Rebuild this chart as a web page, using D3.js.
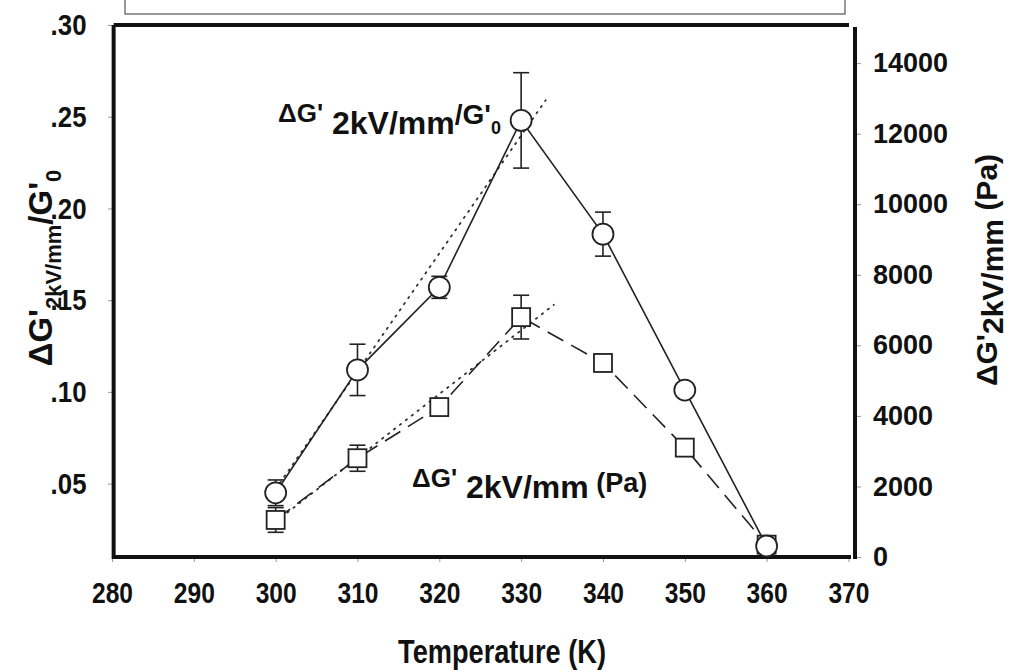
<!DOCTYPE html>
<html>
<head>
<meta charset="utf-8">
<script src="https://cdn.jsdelivr.net/npm/d3@7"></script>
<style>
  body { margin: 0; background: #fff; }
  svg text { font-family: "Liberation Sans", Arial, sans-serif; font-weight: bold; fill: #111; }
</style>
</head>
<body>
<div id="chart"></div>
<script>
// Données
const temperatures = [300, 310, 320, 330, 340, 350, 360];
const ratioValues = [0.045, 0.112, 0.157, 0.248, 0.186, 0.101, 0.016];   // ΔG'2kV/mm / G'0
const ratioErrors = [0.007, 0.014, 0.006, 0.026, 0.012, 0, 0];
const modulusValues = [1050, 2800, 4250, 6800, 5500, 3100, 350];       // ΔG'2kV/mm (Pa)
const modulusErrors = [350, 370, 0, 620, 0, 0, 0];

// droites d'ajustement (pointillés)
const ratioFitT = [300, 333];
const ratioFitV = [0.047, 0.259];
const modulusFitT = [300, 334];
const modulusFitV = [1000, 7150];

const xTicks = [280, 290, 300, 310, 320, 330, 340, 350, 360, 370];
const leftTicks = [0.05, 0.10, 0.15, 0.20, 0.25, 0.30];
const rightTicks = [0, 2000, 4000, 6000, 8000, 10000, 12000, 14000];

// Crée le svg
const svg = d3.select("#chart")
    .append("svg")
    .attr("width", 1012)
    .attr("height", 670);

const x = d3.scaleLinear().domain([280, 370.8]).range([112, 855]);
const yLeft = d3.scaleLinear().domain([0.01, 0.30]).range([557, 25]);
const yRight = d3.scaleLinear().domain([0, 15080]).range([557, 25]);

// boîte de légende coupée en haut
svg.append("rect")
    .attr("x", 125).attr("y", -5)
    .attr("width", 720).attr("height", 19)
    .attr("fill", "none")
    .attr("stroke", "#555")
    .attr("stroke-width", 1.2);

// Axes (police "étroite" simulée par un scaleX)
const axisStyle = (size, sx) => g => {
    g.select(".domain").remove();
    g.selectAll(".tick line").attr("stroke", "#999").attr("stroke-width", 1);
    g.selectAll(".tick text").style("font-size", size).attr("fill", "#111")
        .attr("transform", `scale(${sx},1)`);
};

svg.append("g")
    .attr("transform", "translate(0,557)")
    .call(d3.axisBottom(x).tickValues(xTicks).tickSize(5).tickPadding(20))
    .call(axisStyle("30px", 0.82));

svg.append("g")
    .attr("transform", "translate(114,0)")
    .call(d3.axisLeft(yLeft).tickValues(leftTicks).tickSize(6).tickPadding(26)
        .tickFormat(d => d3.format(".2f")(d).replace(/^0/, "")))
    .call(axisStyle("30px", 0.86));

svg.append("g")
    .attr("transform", "translate(855,0)")
    .call(d3.axisRight(yRight).tickValues(rightTicks).tickSize(6).tickPadding(12)
        .tickFormat(d3.format("d")))
    .call(axisStyle("27px", 1));

// cadre épais
const frame = svg.append("g").attr("stroke", "#111").attr("stroke-width", 4).attr("fill", "none");
frame.append("path").attr("d", `M${x(280.2)},${yLeft(0.30)} H${x(370.8) - 6}`);
frame.append("path").attr("d", `M${x(280.2)},${yLeft(0.30)} V${yLeft(0.01)} H${x(370.8) - 4}`);
frame.append("path").attr("d", `M${x(370.8)},${yLeft(0.30) + 2} V${yLeft(0.01) + 2}`);

// droites d'ajustement
const fitLine = (yScale) => d3.line().x(d => x(d[0])).y(d => yScale(d[1]));
svg.append("path")
    .datum(ratioFitT.map((t, i) => [t, ratioFitV[i]]))
    .attr("d", fitLine(yLeft))
    .attr("fill", "none").attr("stroke", "#333").attr("stroke-width", 1.8)
    .attr("stroke-dasharray", "1.5,6").attr("stroke-linecap", "round");
svg.append("path")
    .datum(modulusFitT.map((t, i) => [t, modulusFitV[i]]))
    .attr("d", fitLine(yRight))
    .attr("fill", "none").attr("stroke", "#333").attr("stroke-width", 1.8)
    .attr("stroke-dasharray", "1.5,6").attr("stroke-linecap", "round");

const ratioData = temperatures.map((t, i) => ({ t, v: ratioValues[i], e: ratioErrors[i] }));
const modulusData = temperatures.map((t, i) => ({ t, v: modulusValues[i], e: modulusErrors[i] }));

// lignes de données
svg.append("path")
    .datum(modulusData)
    .attr("d", d3.line().x(d => x(d.t)).y(d => yRight(d.v)))
    .attr("fill", "none").attr("stroke", "#222").attr("stroke-width", 1.6)
    .attr("stroke-dasharray", "18,9");
svg.append("path")
    .datum(ratioData)
    .attr("d", d3.line().x(d => x(d.t)).y(d => yLeft(d.v)))
    .attr("fill", "none").attr("stroke", "#222").attr("stroke-width", 1.6);

// barres d'erreur
const errorBars = (data, yScale) => {
    const g = svg.append("g").attr("stroke", "#222").attr("stroke-width", 1.6);
    const d2 = data.filter(d => d.e > 0);
    g.selectAll(".v").data(d2).enter().append("line")
        .attr("x1", d => x(d.t)).attr("x2", d => x(d.t))
        .attr("y1", d => yScale(d.v + d.e)).attr("y2", d => yScale(d.v - d.e));
    g.selectAll(".top").data(d2).enter().append("line")
        .attr("x1", d => x(d.t) - 8).attr("x2", d => x(d.t) + 8)
        .attr("y1", d => yScale(d.v + d.e)).attr("y2", d => yScale(d.v + d.e));
    g.selectAll(".bot").data(d2).enter().append("line")
        .attr("x1", d => x(d.t) - 8).attr("x2", d => x(d.t) + 8)
        .attr("y1", d => yScale(d.v - d.e)).attr("y2", d => yScale(d.v - d.e));
};
errorBars(modulusData, yRight);
errorBars(ratioData, yLeft);

// symboles
svg.append("g")
    .selectAll("rect")
    .data(modulusData)
    .enter()
    .append("rect")
    .attr("x", d => x(d.t) - 9).attr("y", d => yRight(d.v) - 9)
    .attr("width", 18).attr("height", 18)
    .attr("fill", "#fff").attr("stroke", "#222").attr("stroke-width", 1.8);

svg.append("g")
    .selectAll("circle")
    .data(ratioData)
    .enter()
    .append("circle")
    .attr("cx", d => x(d.t)).attr("cy", d => yLeft(d.v))
    .attr("r", 10.5)
    .attr("fill", "#fff").attr("stroke", "#222").attr("stroke-width", 1.8);

// annotations
const note1 = svg.append("text").attr("x", 278).attr("y", 122);
note1.append("tspan").text("ΔG'").style("font-size", "26px");
note1.append("tspan").text(" 2kV/mm").attr("dy", 12).style("font-size", "32px");
note1.append("tspan").text("/G'").attr("dy", -10).style("font-size", "28px");
note1.append("tspan").text("0").attr("dy", 10).style("font-size", "18px");

const note2 = svg.append("text").attr("x", 412).attr("y", 487);
note2.append("tspan").text("ΔG'").style("font-size", "26px");
note2.append("tspan").text(" 2kV/mm").attr("dy", 11).style("font-size", "32px");
note2.append("tspan").text(" (Pa)").attr("dy", -6).style("font-size", "27px");

// titres des axes
svg.append("text")
    .attr("transform", "translate(502,663) scale(0.8,1)")
    .attr("text-anchor", "middle")
    .style("font-size", "34px")
    .text("Temperature (K)");

const leftTitle = svg.append("text")
    .attr("transform", "translate(52,268) rotate(-90)")
    .attr("text-anchor", "middle")
    .style("font-size", "33px");
leftTitle.append("tspan").text("ΔG'");
leftTitle.append("tspan").text("2kV/mm").attr("dy", 9).style("font-size", "22px");
leftTitle.append("tspan").text("/G'").attr("dy", -9);
leftTitle.append("tspan").text("0").attr("dy", 9).style("font-size", "22px");

const rightTitle = svg.append("text")
    .attr("transform", "translate(997,270) rotate(-90)")
    .attr("text-anchor", "middle")
    .style("font-size", "30px");
rightTitle.append("tspan").text("ΔG'");
rightTitle.append("tspan").text("2kV/mm").attr("dy", 6);
rightTitle.append("tspan").text(" (Pa)").attr("dy", -6);
</script>
</body>
</html>
